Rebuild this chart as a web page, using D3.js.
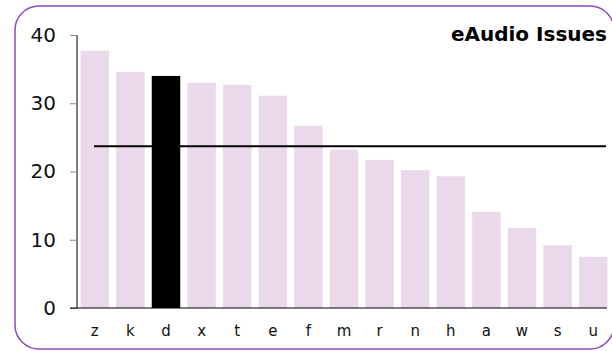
<!DOCTYPE html>
<html>
<head>
<meta charset="utf-8">
<script src="https://cdn.jsdelivr.net/npm/d3@7"></script>
<style>
  body { margin: 0; background: #fff; }
  svg { display: block; font-family: "DejaVu Sans", Verdana, sans-serif; }
</style>
</head>
<body>
<div id="chart"></div>
<script>
var categories = ["z","k","d","x","t","e","f","m","r","n","h","a","w","s","u"];
var values = [37.7, 34.6, 34.0, 33.0, 32.7, 31.1, 26.7, 23.2, 21.7, 20.2, 19.3, 14.1, 11.7, 9.2, 7.5];
var highlight = "d";
var average = 23.7;
var yTicks = [0, 10, 20, 30, 40];
var title = "eAudio Issues";

var width = 612, height = 351;
var margin = {top: 35, right: 1, bottom: 43, left: 77};

var svg = d3.select("#chart").append("svg")
    .attr("width", width)
    .attr("height", height);

// frame
svg.append("rect")
    .attr("x", 15).attr("y", 6)
    .attr("width", 599).attr("height", 343)
    .attr("rx", 24).attr("ry", 24)
    .attr("fill", "none")
    .attr("stroke", "#8b4dbb")
    .attr("stroke-width", 1.5);

var x = d3.scaleBand()
    .domain(categories)
    .range([margin.left, width - margin.right])
    .paddingInner(0.2)
    .paddingOuter(0.1);

var y = d3.scaleLinear()
    .domain([0, 40])
    .range([height - margin.bottom, margin.top]);

// bars
svg.append("g").selectAll("rect")
    .data(categories)
    .enter().append("rect")
    .attr("x", function(d) { return x(d); })
    .attr("y", function(d, i) { return y(values[i]); })
    .attr("width", x.bandwidth())
    .attr("height", function(d, i) { return y(0) - y(values[i]); })
    .attr("fill", function(d) { return d == highlight ? "#000" : "#ead9eb"; });

// y axis
var yaxis = svg.append("g")
    .attr("transform", "translate(" + margin.left + ",0)")
    .call(d3.axisLeft(y).tickValues(yTicks).tickSize(7).tickPadding(14));
yaxis.select(".domain").attr("stroke", "#000").attr("d", "M0," + y(0) + "V" + y(40));
yaxis.selectAll(".tick line").attr("stroke", "#888");
yaxis.selectAll(".tick text").attr("font-size", 20).attr("fill", "#111")
    .attr("font-family", "DejaVu Sans, Verdana, sans-serif");

// x axis
var xaxis = svg.append("g")
    .attr("transform", "translate(0," + y(0) + ")")
    .call(d3.axisBottom(x).tickSize(0).tickPadding(17));
xaxis.select(".domain").attr("stroke", "#000").attr("d", "M" + (margin.left - 7) + ",0H" + 607);
xaxis.selectAll(".tick text").attr("font-size", 15).attr("fill", "#111")
    .attr("font-family", "DejaVu Sans, Verdana, sans-serif");

// average line
svg.append("line")
    .attr("x1", 94).attr("x2", 606)
    .attr("y1", y(average)).attr("y2", y(average))
    .attr("stroke", "#000")
    .attr("stroke-width", 2);

// title
svg.append("text")
    .attr("x", 607).attr("y", 41)
    .attr("text-anchor", "end")
    .attr("font-size", 20)
    .attr("font-weight", "bold")
    .attr("fill", "#000")
    .text(title);
</script>
</body>
</html>
